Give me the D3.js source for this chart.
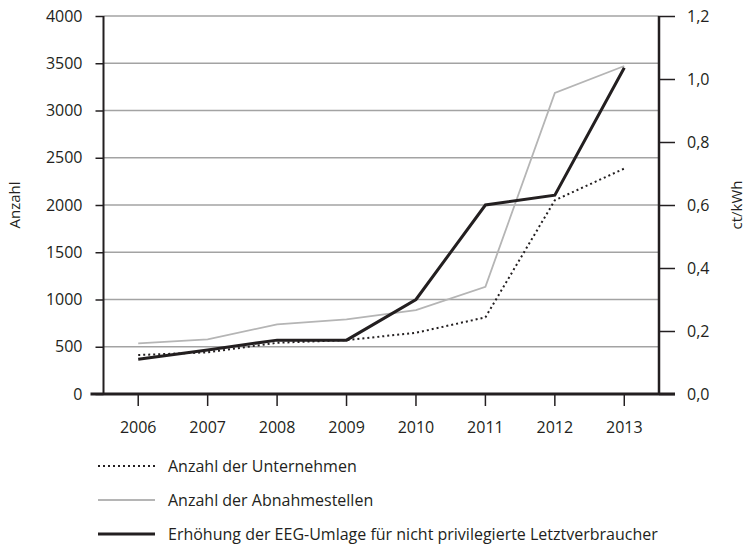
<!DOCTYPE html>
<html>
<head>
<meta charset="utf-8">
<script src="https://cdn.jsdelivr.net/npm/d3@7"></script>
<style>
  body { margin: 0; background: #fff; }
  svg { font-family: "Open Sans", sans-serif; }
  .tick text { fill: #231f20; }
</style>
</head>
<body>
<svg id="chart" width="754" height="545"></svg>
<script>
// data
const years = ["2006", "2007", "2008", "2009", "2010", "2011", "2012", "2013"];
const unternehmen = [412, 441, 542, 570, 648, 811, 2050, 2386];      // Anzahl (dotted)
const abnahmestellen = [536, 578, 737, 790, 888, 1135, 3186, 3471];  // Anzahl (grey)
const eegUmlage = [0.110, 0.140, 0.171, 0.171, 0.300, 0.600, 0.631, 1.036]; // ct/kWh (black)
const leftTicks = [0, 500, 1000, 1500, 2000, 2500, 3000, 3500, 4000];
const rightTicks = [0, 0.2, 0.4, 0.6, 0.8, 1.0, 1.2];
const legendLabels = [
  "Anzahl der Unternehmen",
  "Anzahl der Abnahmestellen",
  "Erhöhung der EEG-Umlage für nicht privilegierte Letztverbraucher"
];

const ink = "#231f20";
const grid = "#a3a3a3";
const light = "#b5b5b5";
const fontSize = 16;

const svg = d3.select("#chart");
const margin = { top: 16, bottom: 151, left: 103.5, right: 95 };
const width = 754, height = 545;

const x = d3.scaleBand()
    .domain(years)
    .range([margin.left, width - margin.right])
    .padding(0);
const cx = d => x(d) + x.bandwidth() / 2;

const yLeft = d3.scaleLinear().domain([0, 4000]).range([height - margin.bottom, margin.top]);
const yRight = d3.scaleLinear().domain([0, 1.2]).range([height - margin.bottom, margin.top]);

const x0 = x.range()[0], x1 = x.range()[1];
const yBase = yLeft(0);

// gridlines
svg.append("g")
  .selectAll("line")
  .data(leftTicks.filter(d => d > 0))
  .join("line")
    .attr("x1", x0).attr("x2", x1)
    .attr("y1", d => yLeft(d)).attr("y2", d => yLeft(d))
    .attr("stroke", grid)
    .attr("stroke-width", 1.5);

// left axis
const leftAxis = svg.append("g")
    .attr("transform", `translate(${x0},0)`)
    .call(d3.axisLeft(yLeft).tickValues(leftTicks).tickFormat(d3.format("d"))
      .tickSize(8).tickSizeOuter(0).tickPadding(13));
leftAxis.select(".domain").remove();
leftAxis.selectAll(".tick line").attr("stroke", ink).attr("stroke-width", 1.5);
leftAxis.selectAll(".tick text").attr("font-size", fontSize).attr("font-family", "Open Sans");
leftAxis.append("line")
    .attr("x1", 0).attr("x2", 0)
    .attr("y1", yLeft(4000)).attr("y2", yBase)
    .attr("stroke", ink).attr("stroke-width", 2);

// right axis
const rightAxis = svg.append("g")
    .attr("transform", `translate(${x1},0)`)
    .call(d3.axisRight(yRight).tickValues(rightTicks).tickSize(16).tickSizeOuter(0).tickPadding(12)
      .tickFormat(d => d3.format(".1f")(d).replace(".", ",")));
rightAxis.select(".domain").remove();
rightAxis.selectAll(".tick line").attr("stroke", ink).attr("stroke-width", 1.5);
rightAxis.selectAll(".tick text").attr("font-size", fontSize).attr("font-family", "Open Sans");
rightAxis.append("line")
    .attr("x1", 0).attr("x2", 0)
    .attr("y1", yRight(1.2)).attr("y2", yBase)
    .attr("stroke", ink).attr("stroke-width", 2.5);

// bottom axis
const bottomAxis = svg.append("g")
    .attr("transform", `translate(0,${yBase})`)
    .call(d3.axisBottom(x).tickSize(12).tickSizeOuter(0).tickPadding(16));
bottomAxis.select(".domain").remove();
bottomAxis.selectAll(".tick line").attr("stroke", ink).attr("stroke-width", 1.5);
bottomAxis.selectAll(".tick text").attr("font-size", fontSize).attr("font-family", "Open Sans");
bottomAxis.append("line")
    .attr("x1", x0 - 13).attr("x2", x1 + 16)
    .attr("y1", 0).attr("y2", 0)
    .attr("stroke", ink).attr("stroke-width", 3);

// axis titles
svg.append("text")
    .attr("transform", `translate(20,${(yLeft(4000) + yBase) / 2}) rotate(-90)`)
    .attr("text-anchor", "middle")
    .attr("font-size", 15)
    .attr("fill", ink)
    .text("Anzahl");
svg.append("text")
    .attr("transform", `translate(742,${(yRight(1.2) + yBase) / 2}) rotate(-90)`)
    .attr("text-anchor", "middle")
    .attr("font-size", 15)
    .attr("fill", ink)
    .text("ct/kWh");

// series
const series = [
  { values: unternehmen, scale: yLeft, color: ink, width: 2, dash: "2,3" },
  { values: abnahmestellen, scale: yLeft, color: light, width: 1.8, dash: null },
  { values: eegUmlage, scale: yRight, color: ink, width: 3, dash: null }
];

series.forEach(s => {
  const line = d3.line()
      .x((d, i) => cx(years[i]))
      .y(d => s.scale(d));
  svg.append("path")
      .datum(s.values)
      .attr("d", line)
      .attr("fill", "none")
      .attr("stroke", s.color)
      .attr("stroke-width", s.width)
      .attr("stroke-dasharray", s.dash)
      .attr("stroke-linejoin", "miter");
});

// legend
const legend = svg.append("g").attr("transform", "translate(98,466)");
legendLabels.forEach((label, i) => {
  const s = series[i];
  const row = legend.append("g").attr("transform", `translate(0,${i * 34})`);
  row.append("line")
      .attr("x1", 0).attr("x2", 57)
      .attr("y1", 0).attr("y2", 0)
      .attr("stroke", s.color)
      .attr("stroke-width", s.width)
      .attr("stroke-dasharray", s.dash);
  row.append("text")
      .attr("x", 70)
      .attr("dy", "0.35em")
      .attr("font-size", 16)
      .attr("fill", ink)
      .text(label);
});
</script>
</body>
</html>
